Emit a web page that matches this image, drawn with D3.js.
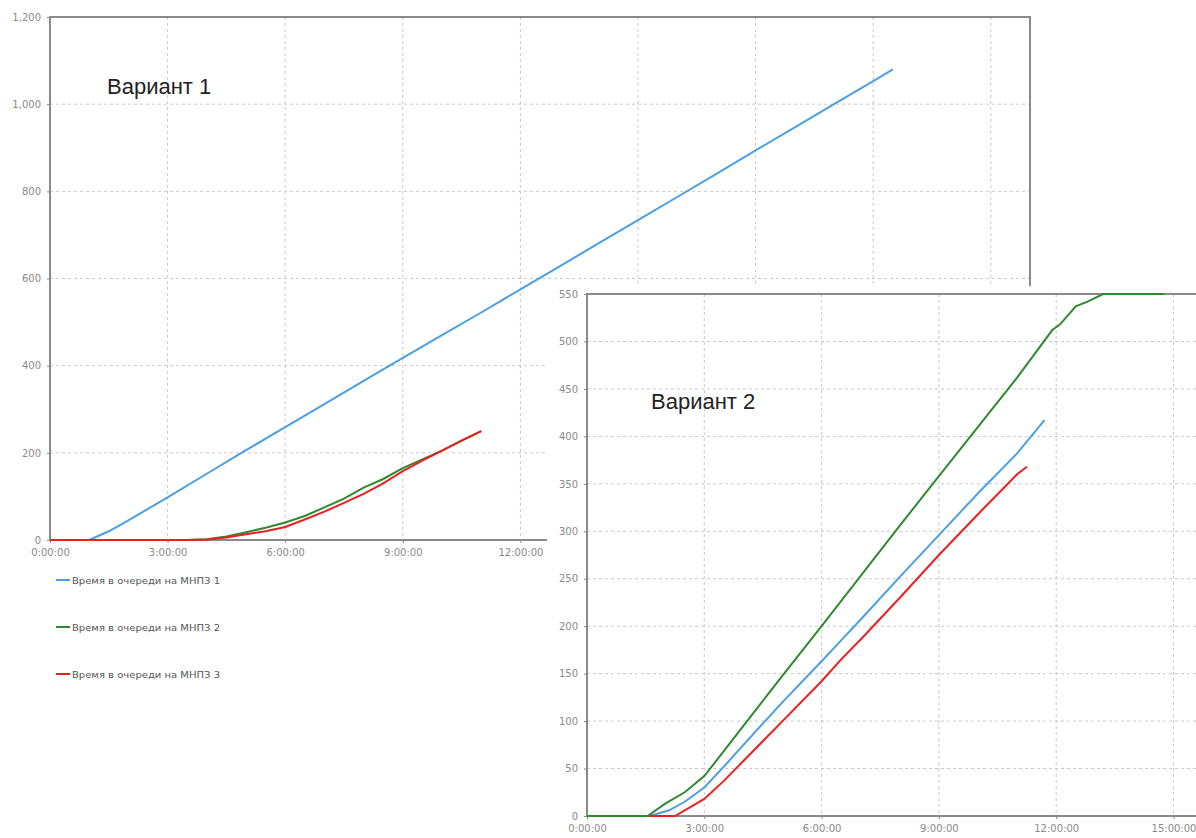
<!DOCTYPE html>
<html>
<head>
<meta charset="utf-8">
<script src="https://cdn.jsdelivr.net/npm/d3@7"></script>
<style>
  body { margin: 0; background: #fff; }
  svg { display: block; }
  .tick text { font-family: "DejaVu Sans", sans-serif; font-size: 10px; fill: #8a8a8a; }
</style>
</head>
<body>
<svg id="chart" width="1196" height="838"></svg>
<script>
// series names (legend)
var seriesNames = ["Время в очереди на МНПЗ 1", "Время в очереди на МНПЗ 2", "Время в очереди на МНПЗ 3"];
var seriesColors = ["#4b9fe3", "#2f8a2f", "#ec1f1f"];

// variant 1: time in hours, value
var v1Hours1 = [0, 1.0, 1.5, 2, 3, 4, 5, 6, 7, 8, 9, 10, 11, 12, 13, 14, 15, 16, 17, 18, 19, 20, 21, 21.5];
var v1Vals1  = [0, 0, 20, 45, 98, 152, 206, 259, 312, 365, 418, 470, 522, 575, 628, 681, 734, 787, 840, 894, 947, 1000, 1053, 1080];
var v1Hours2 = [0, 3.5, 4, 4.5, 5, 5.5, 6, 6.5, 7, 7.5, 8, 8.5, 9, 9.5, 10, 10.5, 11];
var v1Vals2  = [0, 0, 2, 8, 18, 28, 40, 55, 75, 95, 120, 140, 165, 185, 205, 228, 250];
var v1Hours3 = [0, 3.5, 4, 4.5, 5, 5.5, 6, 6.5, 7, 7.5, 8, 8.5, 9, 9.5, 10, 10.5, 11];
var v1Vals3  = [0, 0, 1, 6, 13, 20, 30, 47, 65, 85, 106, 130, 158, 182, 205, 228, 250];

// variant 2
var v2Hours1 = [0, 1.6, 2.1, 2.5, 3, 3.5, 4, 5, 6, 6.5, 7, 8, 9, 10, 11, 11.7];
var v2Vals1  = [0, 0, 6, 15, 30, 52, 75, 120, 163, 185, 207, 252, 296, 340, 382, 417];
var v2Hours2 = [0, 1.55, 2, 2.5, 3, 4, 5, 6, 7, 8, 9, 10, 11, 11.9, 12.1, 12.5, 12.8, 13.2, 14.75];
var v2Vals2  = [0, 0, 13, 25, 42, 95, 148, 200, 253, 306, 358, 410, 462, 512, 518, 537, 542, 550, 550];
var v2Hours3 = [0, 2.25, 3, 3.5, 4, 5, 6, 6.5, 7, 8, 9, 10, 11, 11.25];
var v2Vals3  = [0, 0, 18, 37, 58, 100, 142, 165, 186, 230, 275, 318, 360, 368];

var v1YTicks = [0, 200, 400, 600, 800, 1000, 1200];
var v2YTicks = [0, 50, 100, 150, 200, 250, 300, 350, 400, 450, 500, 550];

function zip(hs, vs) { return hs.map(function (h, i) { return [h, vs[i]]; }); }

var svg = d3.select("#chart");
var fmtTime = function (h) { return h + ":00:00"; };

function drawPanel(o) {
    var g = svg.append("g");
    g.append("rect").attr("x", o.bg[0]).attr("y", o.bg[1]).attr("width", o.bg[2]).attr("height", o.bg[3]).attr("fill", "#fff");

    var x = d3.scaleLinear().domain([0, o.xMax]).range([o.left, o.right]);
    var y = d3.scaleLinear().domain([0, o.yMax]).range([o.bottom, o.top]);

    // grid
    g.append("g").selectAll("line").data(o.xTicks.slice(1)).join("line")
        .attr("x1", function (d) { return x(d); }).attr("x2", function (d) { return x(d); })
        .attr("y1", o.top).attr("y2", o.bottom)
        .attr("stroke", "#c8c8c8").attr("stroke-dasharray", "3,3");
    g.append("g").selectAll("line").data(o.yTicks.slice(1)).join("line")
        .attr("x1", o.left).attr("x2", o.right)
        .attr("y1", function (d) { return y(d); }).attr("y2", function (d) { return y(d); })
        .attr("stroke", "#c8c8c8").attr("stroke-dasharray", "3,3");

    // frame
    g.append("rect").attr("x", o.left).attr("y", o.top)
        .attr("width", o.right - o.left).attr("height", o.bottom - o.top)
        .attr("fill", "none").attr("stroke", "#8a8a8a").attr("stroke-width", 2);

    var ya = g.append("g").attr("transform", "translate(" + o.left + ",0)")
        .call(d3.axisLeft(y).tickValues(o.yTicks).tickSize(3).tickPadding(6).tickFormat(d3.format(",")));
    ya.select(".domain").remove();
    ya.selectAll(".tick line").attr("stroke", "#888");

    var xa = g.append("g").attr("transform", "translate(0," + o.bottom + ")")
        .call(d3.axisBottom(x).tickValues(o.xTicks).tickSize(3).tickPadding(6).tickFormat(fmtTime));
    xa.select(".domain").remove();
    xa.selectAll(".tick line").attr("stroke", "#888");

    var line = d3.line().x(function (d) { return x(d[0]); }).y(function (d) { return y(d[1]); });
    o.series.forEach(function (s) {
        g.append("path").datum(s.data).attr("d", line)
            .attr("fill", "none").attr("stroke", s.color).attr("stroke-width", 2);
    });

    g.append("text").attr("x", o.label[0]).attr("y", o.label[1])
        .attr("font-family", "Liberation Sans, Arial, sans-serif").attr("font-size", 22).attr("fill", "#222")
        .text(o.labelText);
    return g;
}

// variant 1
drawPanel({
    bg: [0, 0, 1196, 838],
    left: 50, right: 1030, top: 17, bottom: 540,
    xMax: 25, yMax: 1200,
    xTicks: [0, 3, 6, 9, 12, 15, 18, 21, 24], yTicks: v1YTicks,
    series: [
        { data: zip(v1Hours1, v1Vals1), color: seriesColors[0] },
        { data: zip(v1Hours2, v1Vals2), color: seriesColors[1] },
        { data: zip(v1Hours3, v1Vals3), color: seriesColors[2] }
    ],
    label: [107, 94], labelText: "Вариант 1"
});

// legend
var leg = svg.append("g");
seriesNames.forEach(function (n, i) {
    var yy = 580 + i * 47;
    leg.append("line").attr("x1", 56).attr("x2", 70).attr("y1", yy).attr("y2", yy)
        .attr("stroke", seriesColors[i]).attr("stroke-width", 2);
    leg.append("text").attr("x", 72).attr("y", yy + 3.5)
        .attr("font-family", "DejaVu Sans, sans-serif").attr("font-size", 9.5).attr("fill", "#555")
        .attr("textLength", 148).attr("lengthAdjust", "spacingAndGlyphs")
        .text(n);
});

// variant 2
drawPanel({
    bg: [547, 286, 649, 552],
    left: 587, right: 1240, top: 294, bottom: 816,
    xMax: 653 / 117.3 * 3, yMax: 550,
    xTicks: [0, 3, 6, 9, 12, 15], yTicks: v2YTicks,
    series: [
        { data: zip(v2Hours1, v2Vals1), color: seriesColors[0] },
        { data: zip(v2Hours3, v2Vals3), color: seriesColors[2] },
        { data: zip(v2Hours2, v2Vals2), color: seriesColors[1] }
    ],
    label: [651, 409], labelText: "Вариант 2"
});
</script>
</body>
</html>
